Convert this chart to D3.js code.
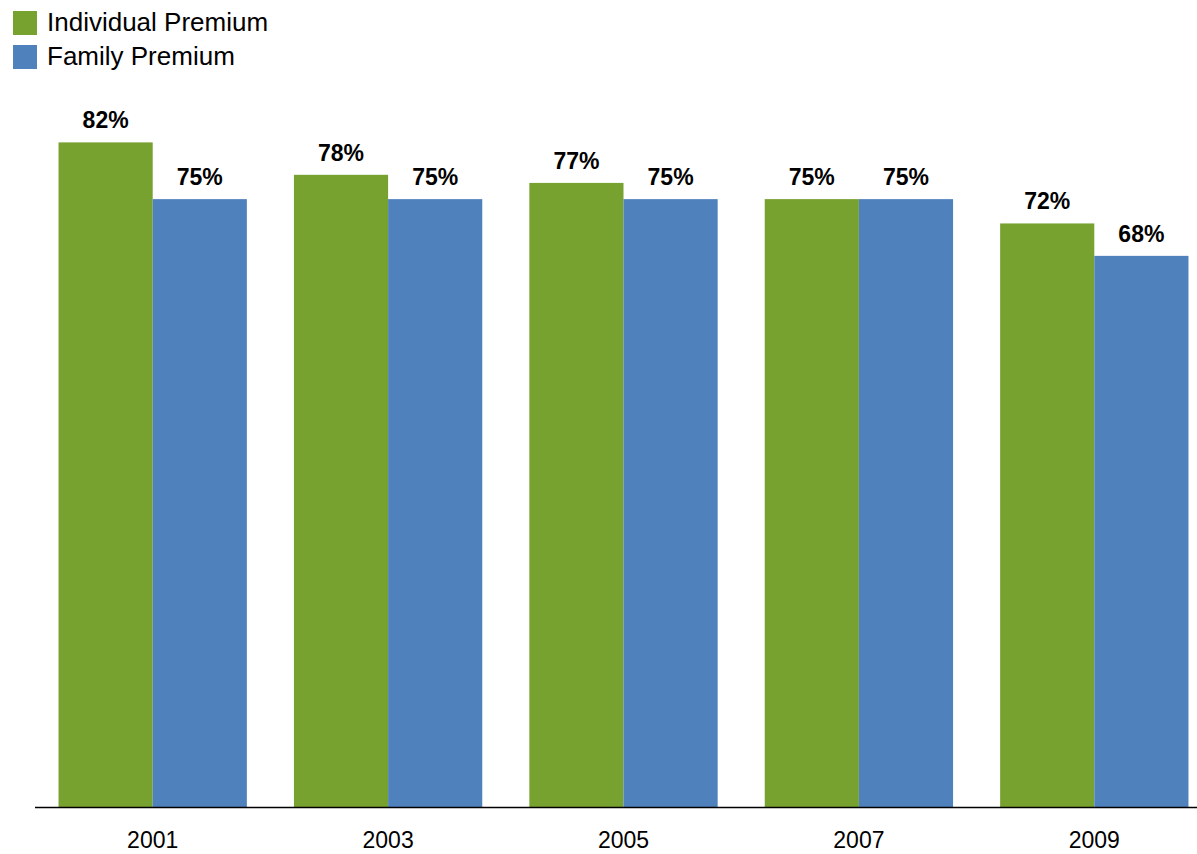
<!DOCTYPE html>
<html>
<head>
<meta charset="utf-8">
<script src="https://cdn.jsdelivr.net/npm/d3@7"></script>
<style>
  html, body { margin: 0; padding: 0; background: #fff; }
  svg { display: block; font-family: "Liberation Sans", Arial, sans-serif; }
</style>
</head>
<body>
<svg id="chart" width="1197" height="854"></svg>
<script>
// Share of premium paid by employer, by year
const years = ["2001", "2003", "2005", "2007", "2009"];
const seriesNames = ["Individual Premium", "Family Premium"];
const individualPremium = [82, 78, 77, 75, 72];
const familyPremium = [75, 75, 75, 75, 68];
const seriesColors = ["#78a22f", "#4f81bd"];

const svg = d3.select("#chart");
const width = 1197;
const baseline = 807;

const x0 = d3.scaleBand().domain(years).range([35, 1212]).paddingInner(0.2).paddingOuter(0.1);
const x1 = d3.scaleBand().domain(seriesNames).range([0, x0.bandwidth()]);
const y = d3.scaleLinear().domain([0, 100]).range([baseline, baseline - 810.5]);
const color = d3.scaleOrdinal().domain(seriesNames).range(seriesColors);

const rows = years.map((yr, i) => ({
  year: yr,
  values: [
    { name: seriesNames[0], value: individualPremium[i] },
    { name: seriesNames[1], value: familyPremium[i] }
  ]
}));

const groups = svg.append("g").selectAll("g")
  .data(rows).join("g")
  .attr("transform", d => `translate(${x0(d.year)},0)`);

groups.selectAll("rect")
  .data(d => d.values).join("rect")
  .attr("x", d => x1(d.name))
  .attr("width", x1.bandwidth())
  .attr("y", d => y(d.value))
  .attr("height", d => baseline - y(d.value))
  .attr("fill", d => color(d.name));

groups.selectAll("text")
  .data(d => d.values).join("text")
  .attr("x", d => x1(d.name) + x1.bandwidth() / 2)
  .attr("y", d => y(d.value) - 14)
  .attr("text-anchor", "middle")
  .attr("font-size", 23)
  .attr("font-weight", "bold")
  .attr("fill", "#000")
  .text(d => d.value + "%");

// x axis
const xAxis = svg.append("g")
  .attr("transform", `translate(0,${baseline})`)
  .call(d3.axisBottom(x0).tickSize(0).tickPadding(25));
xAxis.select(".domain").attr("d", `M35,0.5H${width}`).attr("stroke", "#000").attr("stroke-width", 1.5);
xAxis.selectAll("text").attr("font-size", 23).attr("font-family", "Liberation Sans, Arial, sans-serif").attr("fill", "#000");

// legend
const legend = svg.append("g").selectAll("g")
  .data(seriesNames).join("g")
  .attr("transform", (d, i) => `translate(13,${11 + i * 34})`);
legend.append("rect").attr("width", 24).attr("height", 24).attr("fill", d => color(d));
legend.append("text")
  .attr("x", 34).attr("y", 20)
  .attr("font-size", 26)
  .attr("fill", "#000")
  .text(d => d);
</script>
</body>
</html>
